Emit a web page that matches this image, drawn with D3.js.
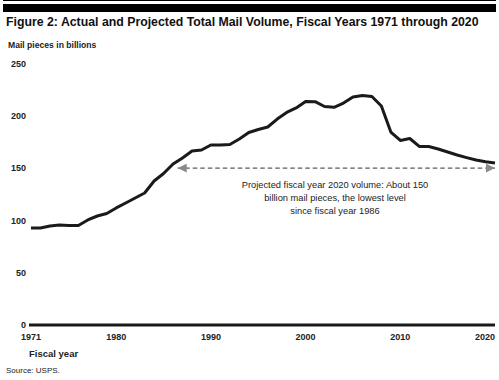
<!DOCTYPE html>
<html>
<head>
<meta charset="utf-8">
<script src="https://cdn.jsdelivr.net/npm/d3@7"></script>
<style>
  html, body { margin: 0; padding: 0; background: #fff; }
  svg { display: block; }
  text { font-family: "Liberation Sans", Arial, sans-serif; }
</style>
</head>
<body>
<svg id="chart" width="499" height="380"></svg>
<script>
// ---- data ----
const years = d3.range(1971, 2021);
const volume = [
  92.7, 92.7, 94.6, 95.6, 95.1, 95.1, 100.4, 104.2, 106.6, 111.9,
  116.6, 121.4, 126.2, 137.7, 144.8, 153.9, 159.7, 166.3, 167.3, 172.1,
  172.1, 172.6, 177.8, 184.0, 186.9, 189.3, 196.9, 203.2, 207.5, 213.7,
  213.5, 208.9, 208.1, 212.2, 218.0, 219.4, 218.5, 209.4, 184.5, 176.4,
  178.3, 170.7, 170.7, 168.3, 165.4, 162.5, 160.0, 157.7, 156.0, 154.9
];
const yTicks = [0, 50, 100, 150, 200, 250];
const xTicks = [1971, 1980, 1990, 2000, 2010, 2020];
const arrowYears = [1986.5, 2020];
const arrowValue = 150;
const noteLines = [
  "Projected fiscal year 2020 volume: About 150",
  "billion mail pieces, the lowest level",
  "since fiscal year 1986"
];
const titleText = "Figure 2: Actual and Projected Total Mail Volume, Fiscal Years 1971 through 2020";

// ---- chart ----
const svg = d3.select("#chart");
const x = d3.scaleLinear().domain([1971, 2020]).range([31, 495]);
const y = d3.scaleLinear().domain([0, 250]).range([325, 63.5]);

// helper: fit a text to a target width by horizontal scaling
function fitText(sel, tx, ty, width) {
  const w = sel.node().getComputedTextLength();
  const sx = Math.min(1, width / w);
  sel.attr("x", 0).attr("y", 0).attr("transform", `translate(${tx},${ty}) scale(${sx},1)`);
}

// top rules
svg.append("line").attr("x1", 3).attr("x2", 496).attr("y1", 0.5).attr("y2", 0.5)
  .attr("stroke", "#000").attr("stroke-width", 1);
svg.append("rect").attr("x", 3).attr("y", 4).attr("width", 493).attr("height", 8).attr("fill", "#000");

// title
const title = svg.append("text")
  .attr("font-size", 13.5).attr("font-weight", "bold").attr("fill", "#111")
  .text(titleText);
fitText(title, 6, 25.5, 473);

const yLab = svg.append("text")
  .attr("font-size", 8.6).attr("font-weight", "bold").attr("fill", "#222")
  .text("Mail pieces in billions");
fitText(yLab, 8, 48, 98);

// y tick labels
svg.append("g").selectAll("text").data(yTicks).join("text")
  .attr("x", 26).attr("y", d => y(d)).attr("dy", "0.35em")
  .attr("text-anchor", "end").attr("font-size", 9).attr("font-weight", "bold").attr("fill", "#222")
  .text(d => d);

// x axis line
svg.append("line").attr("x1", x(1971) - 2).attr("x2", x(2020)).attr("y1", y(0)).attr("y2", y(0))
  .attr("stroke", "#1a1a1a").attr("stroke-width", 3);

// x tick labels
svg.append("g").selectAll("text").data(xTicks).join("text")
  .attr("x", d => x(d)).attr("y", y(0) + 12).attr("dy", "0.35em")
  .attr("text-anchor", (d, i) => i === xTicks.length - 1 ? "end" : "middle")
  .attr("font-size", 9).attr("font-weight", "bold").attr("fill", "#222")
  .text(d => d);

svg.append("text").attr("x", 29).attr("y", 356.5)
  .attr("font-size", 9.5).attr("font-weight", "bold").attr("fill", "#222")
  .text("Fiscal year");

svg.append("text").attr("x", 6).attr("y", 373)
  .attr("font-size", 8).attr("fill", "#222")
  .text("Source: USPS.");

// dashed projection arrow
const defs = svg.append("defs");
defs.append("marker").attr("id", "ah").attr("viewBox", "0 0 10 10")
  .attr("refX", 10).attr("refY", 5).attr("markerWidth", 9).attr("markerHeight", 9)
  .attr("markerUnits", "userSpaceOnUse").attr("orient", "auto-start-reverse")
  .append("path").attr("d", "M0,0 L10,5 L0,10 Z").attr("fill", "#8a8a8a");

svg.append("line")
  .attr("x1", x(arrowYears[0])).attr("x2", x(arrowYears[1]))
  .attr("y1", y(arrowValue)).attr("y2", y(arrowValue))
  .attr("stroke", "#333").attr("stroke-width", 1).attr("stroke-dasharray", "4.5,3")
  .attr("marker-start", "url(#ah)").attr("marker-end", "url(#ah)");

// annotation
svg.append("g").selectAll("text").data(noteLines).join("text")
  .attr("x", 335).attr("y", (d, i) => 188 + i * 12.8)
  .attr("text-anchor", "middle").attr("font-size", 9.3).attr("fill", "#222")
  .text(d => d);

// volume line
const line = d3.line().x((d, i) => x(years[i])).y(d => y(d));
svg.append("path").datum(volume)
  .attr("d", line).attr("fill", "none")
  .attr("stroke", "#1a1a1a").attr("stroke-width", 3)
  .attr("stroke-linejoin", "round").attr("stroke-linecap", "butt");
</script>
</body>
</html>
